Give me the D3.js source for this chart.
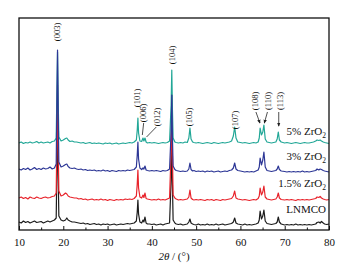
<!DOCTYPE html>
<html>
<head>
<meta charset="utf-8">
<script src="https://cdn.jsdelivr.net/npm/d3@7"></script>
<style>
  body { margin: 0; background: #fff; }
  svg { display: block; font-family: "Liberation Serif", "Times New Roman", serif; }
</style>
</head>
<body>
<div id="xrd"></div>
<script>
// 2-theta positions (shared by all patterns)
var angles = [
  10, 10.5, 11, 11.5, 12, 12.5, 13, 13.5, 14, 14.5,
  15, 15.5, 16, 16.5, 17, 17.5, 18, 18.4, 18.55, 18.7,
  18.85, 19.0, 19.5, 20, 20.5, 20.8, 21.1, 21.5, 22, 22.5,
  23, 23.5, 24, 24.5, 25, 25.5, 26, 26.5, 27, 27.5,
  28, 28.5, 29, 29.5, 30, 30.5, 31, 31.5, 32, 32.5,
  33, 33.5, 34, 34.5, 35, 35.5, 36, 36.5, 36.7, 36.85,
  37.0, 37.3, 37.7, 38.0, 38.2, 38.45, 38.7, 39, 39.5, 40,
  40.5, 41, 41.5, 42, 42.5, 43, 43.5, 44, 44.35, 44.5,
  44.65, 44.8, 45.2, 45.5, 46, 46.5, 47, 47.5, 48, 48.35,
  48.6, 48.85, 49.2, 49.5, 50, 50.5, 51, 51.5, 52, 52.5,
  53, 53.5, 54, 54.5, 55, 55.5, 56, 56.5, 57, 57.5,
  58, 58.4, 58.7, 59.0, 59.4, 60, 60.5, 61, 61.5, 62,
  62.5, 63, 63.5, 64, 64.25, 64.45, 64.75, 65.05, 65.3, 65.6,
  66, 66.5, 67, 67.5, 68, 68.3, 68.55, 68.8, 69.2, 70,
  70.5, 71, 71.5, 72, 72.5, 73, 73.5, 74, 74.5, 75,
  75.5, 76, 76.5, 77, 77.3, 77.7, 78, 78.3, 78.7, 79,
  79.5, 80
];

// intensities (a.u.)
var lnmco = [
  8, 7, 9, 7.5, 8.5, 7, 8, 9, 7.5, 8,
  8.5, 7, 8, 9, 8, 9, 10, 12, 60, 112,
  55, 14, 10, 9, 10, 12, 10, 9, 8, 8,
  7.5, 7, 6.5, 7, 6, 6.5, 5.5, 6, 6.5, 5.5,
  6, 5, 6, 5.5, 6, 5, 5.5, 6, 5, 5.5,
  6, 5.5, 6, 6.5, 6, 6.5, 7, 9, 18, 30,
  16, 8, 7, 10, 8, 13, 7, 6, 6, 5.5,
  6, 5, 5.5, 6, 5, 6, 6.5, 7, 50, 100,
  45, 10, 7, 6, 5.5, 6, 5, 5.5, 6, 8,
  11, 7, 6, 5.5, 5, 6, 5, 5.5, 5, 6,
  5, 5.5, 5, 6, 5, 5.5, 6, 5, 5.5, 6,
  6.5, 8, 12, 7, 6, 5.5, 5, 6, 5, 5.5,
  5, 5.5, 6, 7, 10, 19, 11, 14, 20, 9,
  6.5, 6, 5.5, 6, 6.5, 8, 13, 8, 6, 5,
  5.5, 5, 5.5, 5, 6, 5, 5.5, 5, 5.5, 5,
  5.5, 5, 5.5, 6, 7.5, 8, 7, 8.5, 7, 6,
  5.5, 6
];
var zr15 = [
  8, 9, 7.5, 8.5, 7, 9, 8, 7.5, 9, 8,
  7.5, 8.5, 9, 8, 8.5, 9.5, 10, 13, 65, 121,
  60, 15, 10, 11, 13, 12, 10, 9, 8.5, 8,
  8, 7, 7.5, 6.5, 7, 6, 6.5, 7, 6, 6.5,
  6, 7, 6, 6.5, 5.5, 6.5, 6, 5.5, 6.5, 6,
  6.5, 6, 7, 6.5, 7, 6.5, 7.5, 10, 22, 36,
  18, 9, 8, 11, 8.5, 13, 7.5, 7, 6.5, 6,
  6.5, 6, 7, 6, 6.5, 6, 7, 8, 55, 111,
  50, 11, 8, 7, 6, 6.5, 6, 6.5, 7, 9,
  16, 8, 6.5, 6, 6.5, 6, 6.5, 6, 5.5, 6.5,
  6, 6.5, 5.5, 6.5, 6, 5.5, 6.5, 6, 6.5, 7,
  7.5, 10, 15, 8, 7, 6.5, 6, 6.5, 6, 5.5,
  6, 6.5, 6, 7.5, 10, 18, 11, 14, 20, 9,
  7, 6.5, 6, 6.5, 7, 9, 13, 8, 6.5, 6,
  6.5, 6, 6.5, 6, 5.5, 6.5, 6, 6.5, 6, 6.5,
  6, 6.5, 7, 7.5, 9, 8.5, 9.5, 8, 7, 6.5,
  6, 6.5
];
var zr3 = [
  8, 7, 8.5, 7.5, 9, 7, 8, 9.5, 7.5, 8.5,
  7.5, 9, 8, 8.5, 10, 8, 9, 13, 70, 127,
  65, 15, 10, 11, 12.5, 13, 10.5, 9, 8.5, 9,
  8, 7.5, 8, 7, 7.5, 6.5, 7, 6.5, 7, 6,
  6.5, 6, 7, 6, 6.5, 5.5, 6.5, 6, 5.5, 6.5,
  6, 6.5, 6, 7, 6.5, 7, 7.5, 10, 22, 35,
  18, 9, 7.5, 9, 8, 11, 7, 6.5, 6, 6.5,
  6, 6.5, 6, 5.5, 6.5, 6, 6.5, 8, 45, 82,
  40, 11, 7.5, 6.5, 6, 5.5, 6, 5.5, 6, 8,
  14, 7.5, 6, 6.5, 5.5, 6, 5.5, 6, 5, 6,
  5.5, 6, 5, 5.5, 6, 5, 5.5, 6, 5.5, 6.5,
  7, 9, 14, 8, 6.5, 6, 5.5, 5, 5.5, 5,
  5.5, 5, 6, 7, 10, 19, 12, 17, 25, 10,
  6.5, 6, 5.5, 6, 6.5, 8, 11, 7.5, 6, 5.5,
  5, 5.5, 5, 5.5, 5, 5.5, 5, 6, 5, 5.5,
  5, 5.5, 6, 6.5, 8, 7, 8, 7.5, 6.5, 6,
  5.5, 5
];
var zr5 = [
  7, 8, 6.5, 7.5, 7, 8, 7, 7.5, 8.5, 7,
  8, 7, 7.5, 8, 7, 8.5, 9, 12, 55, 98,
  50, 13, 9, 10, 11.5, 12, 10, 8.5, 9, 8,
  8, 7.5, 7, 7.5, 6.5, 7, 7.5, 6.5, 7, 6.5,
  7, 6.5, 6, 7, 6.5, 7, 6, 6.5, 7, 6,
  6.5, 7, 6.5, 7, 7.5, 7, 8, 10, 20, 32,
  17, 9, 8.5, 12, 9, 12, 8, 7, 7.5, 7,
  7.5, 7, 6.5, 7, 7.5, 7, 7.5, 9, 45, 80,
  40, 12, 8, 7.5, 7, 7.5, 7, 8, 7.5, 12,
  22, 11, 8, 7.5, 7, 7.5, 7, 6.5, 7, 7.5,
  7, 6.5, 7.5, 7, 6.5, 7, 7.5, 7, 7.5, 8,
  9, 14, 23, 12, 8, 7.5, 7, 7.5, 7, 6.5,
  7, 7.5, 7, 8, 12, 22, 15, 18, 25, 11,
  8, 7.5, 7, 7.5, 8, 11, 18, 10, 8, 7,
  7.5, 7, 6.5, 7, 7.5, 7, 6.5, 7, 7.5, 7,
  7, 7.5, 8, 9, 10, 9.5, 10, 9, 8, 7.5,
  7, 6.5
];

var seriesNames = ["LNMCO", "1.5% ZrO", "3% ZrO", "5% ZrO"];
var seriesSub = ["", "2", "2", "2"];
var seriesOffsets = [0, 24, 53, 80];
var seriesLabelY = [17, 19, 17, 15];
var seriesColors = ["#1c1c1c", "#e8232b", "#2d3796", "#22a797"];
var drawOrder = [0, 1, 3, 2];

// peak annotations
var hklLabels = ["(003)", "(101)", "(006)", "(012)", "(104)", "(105)", "(107)", "(108)", "(110)", "(113)"];
var hklAngles = [18.7, 36.8, 38.0, 41.1, 44.65, 48.4, 58.8, 63.3, 66.2, 68.9];
var hklLevels = [198, 132, 117, 113, 175, 113, 110, 129, 129, 129];

var xTicks = [10, 20, 30, 40, 50, 60, 70, 80];
var xMinorTicks = [15, 25, 35, 45, 55, 65, 75];

// dimensions
var margin = { top: 18, right: 28, bottom: 40, left: 19 },
    width = 357 - margin.left - margin.right,
    height = 270 - margin.top - margin.bottom;

var x = d3.scaleLinear().domain([10, 80]).range([0, width]);
var y = d3.scaleLinear().domain([0, 212]).range([height, 0]);

var svg = d3.select("#xrd")
    .append("svg")
    .attr("width", 357)
    .attr("height", 270)
    .append("g")
    .attr("transform", "translate(" + margin.left + "," + margin.top + ")");

var data = [lnmco, zr15, zr3, zr5];

var line = d3.line()
    .x(function(d) { return x(d[0]); })
    .y(function(d) { return y(d[1]); });

// patterns
drawOrder.forEach(function(i) {
    var vals = data[i];
    var pts = angles.map(function(a, j) { return [a, vals[j] + seriesOffsets[i]]; });
    svg.append("path")
        .datum(pts)
        .attr("fill", "none")
        .attr("stroke", seriesColors[i])
        .attr("stroke-width", 1.2)
        .attr("stroke-linejoin", "round")
        .attr("d", line);
});

// sample labels
seriesNames.forEach(function(name, i) {
    var t = svg.append("text")
        .attr("x", width - 3)
        .attr("y", y(seriesLabelY[i] + seriesOffsets[i]))
        .attr("text-anchor", "end")
        .style("font-size", "11px")
        .style("fill", "#111");
    t.append("tspan").text(name);
    if (seriesSub[i]) {
        t.append("tspan").attr("dy", 3).style("font-size", "7.5px").text(seriesSub[i]);
    }
});

// hkl labels (rotated)
hklLabels.forEach(function(lab, i) {
    svg.append("text")
        .attr("transform", "translate(" + x(hklAngles[i]) + "," + y(hklLevels[i]) + ") rotate(-90)")
        .attr("text-anchor", "middle")
        .attr("dy", "0.33em")
        .style("font-size", "8.5px")
        .style("fill", "#111")
        .text(lab);
});

// leader lines for (006) and (012)
var leaders = [[38.15, 107, 37.85, 95], [41.0, 103, 38.8, 93]];
leaders.forEach(function(l) {
    svg.append("line")
        .attr("x1", x(l[0])).attr("y1", y(l[1]))
        .attr("x2", x(l[2])).attr("y2", y(l[3]))
        .attr("stroke", "#222").attr("stroke-width", 0.8);
});

// arrows for (108), (110), (113)
svg.append("defs").append("marker")
    .attr("id", "arr")
    .attr("viewBox", "0 0 6 6")
    .attr("refX", 5).attr("refY", 3)
    .attr("markerWidth", 5).attr("markerHeight", 5)
    .attr("orient", "auto")
    .append("path").attr("d", "M0,0.5 L6,3 L0,5.5 Z").attr("fill", "#222");

var arrows = [[63.5, 118, 64.4, 107], [66.1, 118, 65.4, 107], [68.65, 118, 68.65, 104]];
arrows.forEach(function(a) {
    svg.append("line")
        .attr("x1", x(a[0])).attr("y1", y(a[1]))
        .attr("x2", x(a[2])).attr("y2", y(a[3]))
        .attr("stroke", "#222").attr("stroke-width", 0.8)
        .attr("marker-end", "url(#arr)");
});

// x axis, ticks point inward
var xAxis = svg.append("g")
    .attr("transform", "translate(0," + height + ")")
    .call(d3.axisBottom(x).tickValues(xTicks).tickSizeInner(-4).tickSizeOuter(0).tickPadding(8));
xAxis.select(".domain").remove();
xAxis.selectAll("text").style("font-size", "11px").style("font-family", "Liberation Serif, serif").style("fill", "#111");
xAxis.selectAll("line").attr("stroke", "#111");

var xMinor = svg.append("g")
    .attr("transform", "translate(0," + height + ")")
    .call(d3.axisBottom(x).tickValues(xMinorTicks).tickSize(-2.5).tickFormat(""));
xMinor.select(".domain").remove();
xMinor.selectAll("line").attr("stroke", "#111");

// frame
svg.append("rect")
    .attr("width", width)
    .attr("height", height)
    .attr("fill", "none")
    .attr("stroke", "#111")
    .attr("stroke-width", 1.3);

// x axis title
var title = svg.append("text")
    .attr("x", width / 2)
    .attr("y", height + 30)
    .attr("text-anchor", "middle")
    .style("font-size", "11px")
    .style("fill", "#111");
title.append("tspan").style("font-style", "italic").text("2θ");
title.append("tspan").text(" / (°)");
</script>
</body>
</html>
